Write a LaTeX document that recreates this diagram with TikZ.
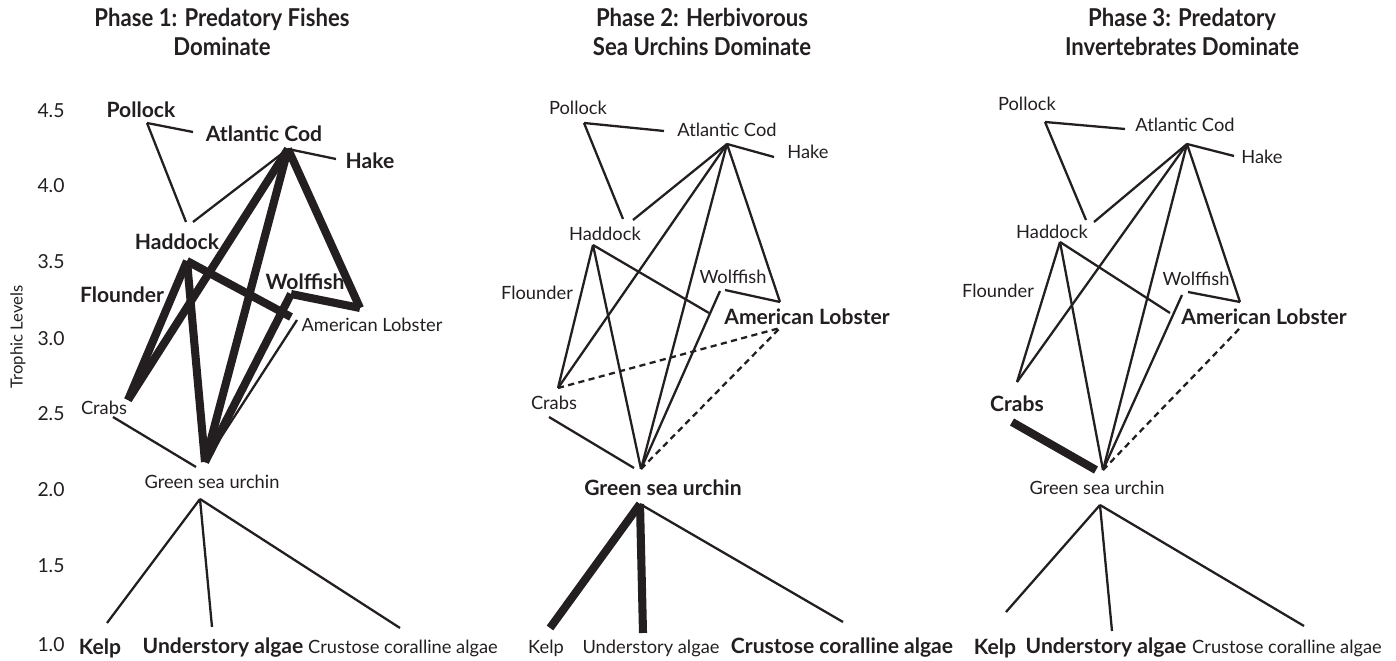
\documentclass[tikz,border=0pt]{standalone}
\usepackage{fontspec}
\setmainfont{Lato}
\newfontfamily\titlefont[FakeStretch=0.9]{Lato}
\definecolor{ink}{RGB}{35,31,32}

\tikzset{
  link/.style={draw=ink, line width=1.3pt},
  strong/.style={draw=ink, line width=4.6pt},
  weak/.style={draw=ink, line width=1.3pt, dash pattern=on 3.5pt off 2.5pt},
  sp/.style={text=ink, inner sep=0pt, font=\fontsize{10.4}{12}\selectfont},
  spb/.style={text=ink, inner sep=0pt, font=\fontsize{12}{14}\selectfont\bfseries},
  phase/.style={align=center, text=ink, font=\titlefont\fontsize{14}{16}\selectfont\bfseries},
  lev/.style={text=ink, inner sep=0pt, font=\fontsize{11}{13}\selectfont},
}

\begin{document}
\begin{tikzpicture}[x=0.02cm, y=-0.02cm]
\useasboundingbox (0,0) rectangle (1396,661);

% axis
\node[lev, rotate=90, font=\fontsize{9.5}{11}\selectfont] (axis) at (18,337) {Trophic Levels};
\foreach \lev/\yy [count=\i] in {1.0/645, 1.5/566, 2.0/490, 2.5/414, 3.0/339, 3.5/262, 4.0/186, 4.5/111}
  \node[lev] (tick\i) at (51,\yy) {\lev};

% titles
\node[phase] (title1) at (222,32) {Phase 1: Predatory Fishes\\Dominate};
\node[phase] (title2) at (702,32) {Phase 2: Herbivorous\\Sea Urchins Dominate};
\node[phase] (title3) at (1182,32) {Phase 3: Predatory\\Invertebrates Dominate};

%%% Phase 1
\node[spb] (a-pollock) at (141,110) {Pollock};
\node[spb] (a-cod) at (264,134) {Atlantic Cod};
\node[spb] (a-hake) at (370,161) {Hake};
\node[spb] (a-haddock) at (177,242) {Haddock};
\node[spb] (a-flounder) at (122,295) {Flounder};
\node[spb] (a-wolffish) at (305,282) {Wolffish};
\node[sp] (a-lobster) at (372,325) {American Lobster};
\node[sp] (a-crabs) at (104,408) {Crabs};
\node[sp] (a-urchin) at (212,482) {Green sea urchin};
\node[spb] (a-kelp) at (100,648) {Kelp};
\node[spb] (a-under) at (223,648) {Understory algae};
\node[sp] (a-crust) at (403,648) {Crustose coralline algae};

\coordinate (a-pol) at (147,123);
\coordinate (a-cod-w) at (193,132);
\coordinate (a-cod-j) at (288,149);
\coordinate (a-hake-w) at (336,159);
\coordinate (a-had-t) at (186,222);
\coordinate (a-had-tr) at (193,222);
\coordinate (a-had-j) at (187,261);
\coordinate (a-wolf-j) at (291,294);
\coordinate (a-lob-j) at (360,308);
\coordinate (a-lob-w) at (291,317);
\coordinate (a-lob-b) at (297,320);
\coordinate (a-crab-t) at (128,400);
\coordinate (a-crab-b) at (113,417);
\coordinate (a-urch-t) at (205,462);
\coordinate (a-urch-l) at (196,467);
\coordinate (a-urch-b) at (200,499);
\coordinate (a-kelp-t) at (107,623);
\coordinate (a-under-t) at (212,627);
\coordinate (a-crust-t) at (400,628);

\draw[link] (a-pol) -- (a-cod-w);
\draw[link] (a-pol) -- (a-had-t);
\draw[link] (a-cod-j) -- (a-hake-w);
\draw[link] (a-cod-j) -- (a-had-tr);
\draw[strong] (a-cod-j) -- (a-crab-t);
\draw[strong] (a-cod-j) -- (a-urch-t);
\draw[strong] (a-cod-j) -- (a-lob-j);
\draw[strong] (a-wolf-j) -- (a-lob-j);
\draw[strong] (a-wolf-j) -- (a-urch-t);
\draw[strong] (a-had-j) -- (a-lob-w);
\draw[strong] (a-had-j) -- (a-crab-t);
\draw[strong] (a-had-j) -- (a-urch-t);
\draw[link] (a-lob-b) -- (a-urch-t);
\draw[link] (a-crab-b) -- (a-urch-l);
\draw[link] (a-urch-b) -- (a-kelp-t);
\draw[link] (a-urch-b) -- (a-under-t);
\draw[link] (a-urch-b) -- (a-crust-t);

%%% Phase 2
\node[sp] (b-pollock) at (578,108) {Pollock};
\node[sp] (b-cod) at (727,130) {Atlantic Cod};
\node[sp] (b-hake) at (808,152) {Hake};
\node[sp] (b-haddock) at (605,234) {Haddock};
\node[sp] (b-flounder) at (537,293) {Flounder};
\node[sp] (b-wolffish) at (733,277) {Wolffish};
\node[spb] (b-lobster) at (807,317) {American Lobster};
\node[sp] (b-crabs) at (554,403) {Crabs};
\node[spb] (b-urchin) at (663,488) {Green sea urchin};
\node[sp] (b-kelp) at (546,648) {Kelp};
\node[sp] (b-under) at (651,648) {Understory algae};
\node[spb] (b-crust) at (842,648) {Crustose coralline algae};

\coordinate (b-pol) at (584,123);
\coordinate (b-cod-w) at (664,131);
\coordinate (b-cod-j) at (727,144);
\coordinate (b-hake-w) at (774,157);
\coordinate (b-had-t) at (623,219);
\coordinate (b-had-tr) at (633,220);
\coordinate (b-had-j) at (593,245);
\coordinate (b-wolf-j) at (720,291);
\coordinate (b-wolf-r) at (725,290);
\coordinate (b-lob-j) at (780,302);
\coordinate (b-lob-w) at (709,313);
\coordinate (b-lob-b) at (780,328);
\coordinate (b-crab-t) at (558,388);
\coordinate (b-crab-b) at (549,417);
\coordinate (b-urch-t) at (641,469);
\coordinate (b-urch-l) at (634,468);
\coordinate (b-urch-b) at (640,504);
\coordinate (b-kelp-t) at (550,628);
\coordinate (b-under-t) at (643,633);
\coordinate (b-crust-t) at (843,622);

\draw[link] (b-pol) -- (b-cod-w);
\draw[link] (b-pol) -- (b-had-t);
\draw[link] (b-cod-j) -- (b-hake-w);
\draw[link] (b-cod-j) -- (b-had-tr);
\draw[link] (b-cod-j) -- (b-crab-t);
\draw[link] (b-cod-j) -- (b-urch-t);
\draw[link] (b-cod-j) -- (b-lob-j);
\draw[link] (b-wolf-r) -- (b-lob-j);
\draw[link] (b-wolf-j) -- (b-urch-t);
\draw[link] (b-had-j) -- (b-lob-w);
\draw[link] (b-had-j) -- (b-crab-t);
\draw[link] (b-had-j) -- (b-urch-t);
\draw[link] (b-crab-b) -- (b-urch-l);
\draw[weak] (b-crab-t) -- (b-lob-b);
\draw[weak] (b-urch-t) -- (b-lob-b);
\draw[strong] (b-urch-b) -- (b-kelp-t);
\draw[strong] (b-urch-b) -- (b-under-t);
\draw[link] (b-urch-b) -- (b-crust-t);

%%% Phase 3
\node[sp] (c-pollock) at (1027,104) {Pollock};
\node[sp] (c-cod) at (1185,125) {Atlantic Cod};
\node[sp] (c-hake) at (1262,157) {Hake};
\node[sp] (c-haddock) at (1052,232) {Haddock};
\node[sp] (c-flounder) at (998,291) {Flounder};
\node[sp] (c-wolffish) at (1196,279) {Wolffish};
\node[spb] (c-lobster) at (1264,317) {American Lobster};
\node[spb] (c-crabs) at (1017,404) {Crabs};
\node[sp] (c-urchin) at (1097,488) {Green sea urchin};
\node[spb] (c-kelp) at (995,648) {Kelp};
\node[spb] (c-under) at (1106,648) {Understory algae};
\node[sp] (c-crust) at (1287,648) {Crustose coralline algae};

\coordinate (c-pol) at (1045,122);
\coordinate (c-cod-w) at (1125,129);
\coordinate (c-cod-j) at (1187,144);
\coordinate (c-hake-w) at (1234,156);
\coordinate (c-had-t) at (1086,220);
\coordinate (c-had-tr) at (1094,222);
\coordinate (c-had-j) at (1060,242);
\coordinate (c-wolf-j) at (1182,295);
\coordinate (c-wolf-r) at (1188,292);
\coordinate (c-lob-j) at (1240,302);
\coordinate (c-lob-w) at (1170,313);
\coordinate (c-lob-b) at (1240,328);
\coordinate (c-crab-t) at (1017,382);
\coordinate (c-crab-b) at (1012,422);
\coordinate (c-urch-t) at (1103,470);
\coordinate (c-urch-l) at (1096,470);
\coordinate (c-urch-b) at (1100,505);
\coordinate (c-kelp-t) at (1006,612);
\coordinate (c-under-t) at (1112,631);
\coordinate (c-crust-t) at (1304,626);

\draw[link] (c-pol) -- (c-cod-w);
\draw[link] (c-pol) -- (c-had-t);
\draw[link] (c-cod-j) -- (c-hake-w);
\draw[link] (c-cod-j) -- (c-had-tr);
\draw[link] (c-cod-j) -- (c-crab-t);
\draw[link] (c-cod-j) -- (c-urch-t);
\draw[link] (c-cod-j) -- (c-lob-j);
\draw[link] (c-wolf-r) -- (c-lob-j);
\draw[link] (c-wolf-j) -- (c-urch-t);
\draw[link] (c-had-j) -- (c-lob-w);
\draw[link] (c-had-j) -- (c-crab-t);
\draw[link] (c-had-j) -- (c-urch-t);
\draw[strong] (c-crab-b) -- (c-urch-l);
\draw[weak] (c-urch-t) -- (c-lob-b);
\draw[link] (c-urch-b) -- (c-kelp-t);
\draw[link] (c-urch-b) -- (c-under-t);
\draw[link] (c-urch-b) -- (c-crust-t);

\end{tikzpicture}
\end{document}
